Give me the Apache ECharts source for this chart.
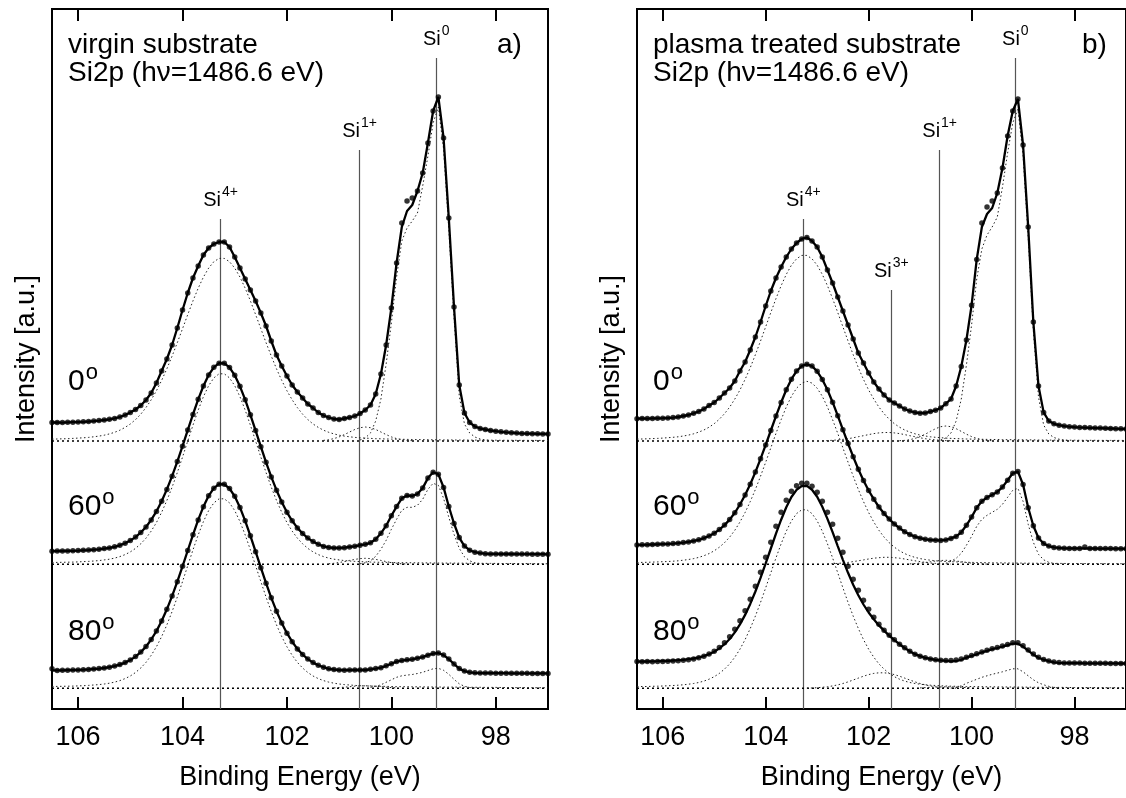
<!DOCTYPE html>
<html><head><meta charset="utf-8">
<script src="https://cdn.jsdelivr.net/npm/echarts@6/dist/echarts.min.js"></script>
<style>html,body{margin:0;padding:0;background:#fff}#c{width:1126px;height:798px}</style>
</head><body><div id="c"></div>
<script>
// Binding energy grid (eV)
const energies = [106.5,106.4,106.3,106.2,106.1,106.0,105.9,105.8,105.7,105.6,
105.5,105.4,105.3,105.2,105.1,105.0,104.9,104.8,104.7,104.6,
104.5,104.4,104.3,104.2,104.1,104.0,103.9,103.8,103.7,103.6,
103.5,103.4,103.3,103.2,103.1,103.0,102.9,102.8,102.7,102.6,
102.5,102.4,102.3,102.2,102.1,102.0,101.9,101.8,101.7,101.6,
101.5,101.4,101.3,101.2,101.1,101.0,100.9,100.8,100.7,100.6,
100.5,100.4,100.3,100.2,100.1,100.0,99.9,99.8,99.7,99.6,
99.5,99.4,99.3,99.2,99.1,99.0,98.9,98.8,98.7,98.6,
98.5,98.4,98.3,98.2,98.1,98.0,97.9,97.8,97.7,97.6,
97.5,97.4,97.3,97.2,97.1,97.0];
const tickValues = [98,100,102,104,106];
const angleLabels = ['0','60','80'];
const baselineOffsets = [268, 144.7, 20.7]; // stacking offsets of 0°, 60°, 80° spectra (a.u.)

// ---------- panel a: virgin substrate ----------
const a0Data = [18.5,18.6,18.4,18.7,18.8,18.9,19.2,19.5,19.9,20.4,
21,21.7,22.6,24,26,28.5,31.5,35.5,41,48,
58,70,82,96,113,131,148,163,175,186,
193,197,199,199,194,184,173,162,151,140,
128,115,100,86,75,65,56,49,43,37,
33,28.5,25.5,23.5,22,21.5,22.5,23.5,25,27.5,
31,36,47,67,96,133,178,218,240,243,
250,268,298,330,344,303,223,134,56,28,
18.5,14.5,12.5,11.5,10.5,9.8,9.2,8.7,8.3,7.9,
7.6,7.4,7.3,7.2,7.1,7.0];
const a0Fit = [18.5,18.6,18.4,18.7,18.8,18.9,19.2,19.5,19.9,20.4,
21,21.7,22.6,24,26,28.5,31.5,35.5,41,48,
58,70,82,96,113,131,148,163,175,186,
193,197,199,199,194,184,173,162,151,140,
128,115,100,86,75,65,56,49,43,37,
33,28.5,25.5,23.5,22,21.5,22.5,23.5,25,27.5,
31,36,47,67,96,133,178,214,230,236,
250,268,298,330,344,303,223,134,56,28,
18.5,14.5,12.5,11.5,10.5,9.8,9.2,8.7,8.3,7.9,
7.6,7.4,7.3,7.2,7.1,7.0];
const a0Si4 = [1.9,2.0,2.2,2.3,2.6,2.9,3.2,3.6,4.2,4.9,
5.8,7.1,8.7,10.8,13.6,17.0,21.4,26.8,33.4,41.2,
50.2,60.6,72.2,84.9,98.3,112.3,126.4,140.1,152.8,163.9,
172.9,179.3,182.6,182.6,179.3,172.9,163.9,152.8,140.1,126.4,
112.3,98.3,84.9,72.2,60.6,50.2,41.2,33.4,26.8,21.4,
17.0,13.6,10.8,8.7,7.1,5.8,4.9,4.2,3.6,3.2,
2.9,2.6,2.3,2.2,2.0,1.9,1.8,1.7,1.6,1.5,
1.4,1.4,1.3,1.2,1.2,1.1,1.1,1.0,1.0,1.0,
0.9,0.9,0.9,0.8,0.8,0.8,0.7,0.7,0.7,0.7,
0.6,0.6,0.6,0.6,0.6,0.5];
const a0Si1 = [0.6,1.3,2.4,4.1,6.4,9.0,11.5,13.3,14,13.3,11.5,9.0,6.4,4.1,2.4,1.3,0.6,0.3]; // from 101.3 eV
const a0Si0 = [1,3,8,20,42,77,118,164,200,213,220,228,255,285,318,334,292,212,124,45,17,8,4,2,1,0.5]; // from 100.6 eV

const a60Data = [13.1,13.2,13.3,13.4,13.5,13.7,14.0,14.2,14.6,15.0,
15.7,16.4,17.5,19.0,21.0,23.7,27.2,31.8,37.3,44.4,
52.9,63.1,74.9,88.1,102.7,118.1,134.2,149.9,165.0,178.3,
189.3,197.0,201.1,201.0,196.9,189.0,178.0,164.6,149.5,133.7,
117.6,102.0,87.4,74.1,62.3,52.0,43.5,36.4,30.8,26.2,
22.7,20.0,17.9,16.9,16.3,16.4,16.6,17.4,18.0,19.1,
20.0,21.5,25.1,31.0,38.6,48.6,57.7,66.0,68.8,68.4,
70.3,76.2,86.2,92.0,90.0,76.9,57.8,40.8,26.7,18.2,
14.1,12.1,11.2,10.6,10.4,10.4,10.3,10.3,10.3,10.2,
10.2,10.2,10.1,10.1,10.1,10.0];
const a60Si4 = [1.8,1.9,2.0,2.1,2.2,2.4,2.7,2.9,3.3,3.7,
4.4,5.1,6.2,7.7,9.7,12.4,15.9,20.5,26.1,33.2,
41.7,52.0,63.8,77.1,91.7,107.2,123.3,139.1,154.2,167.6,
178.6,186.4,190.5,190.5,186.4,178.6,167.6,154.2,139.1,123.3,
107.2,91.7,77.1,63.8,52.0,41.7,33.2,26.1,20.5,15.9,
12.4,9.7,7.7,6.2,5.1,4.4,3.7,3.3,2.9,2.7,
2.4,2.2,2.1,2.0,1.9,1.8,1.7,1.6,1.6,1.5,
1.5,1.4,1.4,1.3,1.3,1.2,1.2,1.2,1.1,1.1,
1.0,1.0,1.0,0.9,0.9,0.9,0.8,0.8,0.8,0.7,
0.7,0.7,0.6,0.6,0.6,0.5];
const a60Si1 = [0.5,1.0,1.8,2.7,3.9,4.9,5.7,6,5.7,4.9,3.9,2.7,1.8,1.0,0.5,0.3]; // from 101.2 eV
const a60Si0 = [0.5,1.5,3.5,8,15,24,35,45,54,57,57,59,65,75,81,79,66,47,30,16,7.5,3.5,1.5,0.6,0.2]; // from 100.6 eV

const a80Data = [19.6,17.9,18.0,18.1,18.2,18.4,18.6,18.9,19.3,19.7,
20.3,21.1,22.2,23.7,25.7,28.3,31.7,36.2,41.7,48.8,
57.2,67.3,79.0,92.2,106.6,122.0,137.8,153.5,168.4,181.6,
192.5,200.1,204.1,204.0,199.8,192.0,180.9,167.5,152.5,136.6,
120.6,105.1,90.5,77.1,65.4,55.1,46.6,39.4,33.8,29.2,
25.7,23.1,21.1,19.5,18.8,18.3,18.1,18.2,18.3,18.4,
18.3,19.0,19.7,20.6,22.5,24.6,26.7,27.7,28.5,29.0,
30.1,31.2,33.1,34.7,35.3,33.2,29.2,24.3,19.7,17.2,
16.0,15.5,15.2,15.2,15.2,15.1,15.1,15.1,15.0,15.0,
15.0,15.0,14.9,14.9,14.9,14.9];
const a80Fit = [17.8,17.9,18.0,18.1,18.2,18.4,18.6,18.9,19.3,19.7,
20.3,21.1,22.2,23.7,25.7,28.3,31.7,36.2,41.7,48.8,
57.2,67.3,79.0,92.2,106.6,122.0,137.8,153.5,168.4,181.6,
192.5,200.1,204.1,204.0,199.8,192.0,180.9,167.5,152.5,136.6,
120.6,105.1,90.5,77.1,65.4,55.1,46.6,39.4,33.8,29.2,
25.7,23.1,21.1,19.5,18.8,18.3,18.1,18.2,18.3,18.4,
18.3,19.0,19.7,20.6,22.5,24.6,26.7,27.7,28.5,29.0,
30.1,31.2,33.1,34.7,35.3,33.2,29.2,24.3,19.7,17.2,
16.0,15.5,15.2,15.2,15.2,15.1,15.1,15.1,15.0,15.0,
15.0,15.0,14.9,14.9,14.9,14.9];
const a80Si4 = [1.8,1.9,2.0,2.1,2.2,2.4,2.6,2.9,3.3,3.7,
4.3,5.1,6.2,7.7,9.7,12.3,15.8,20.3,25.9,33.0,
41.5,51.7,63.4,76.7,91.2,106.7,122.6,138.4,153.4,166.7,
177.7,185.4,189.5,189.5,185.4,177.7,166.7,153.4,138.4,122.6,
106.7,91.2,76.7,63.4,51.7,41.5,33.0,25.9,20.3,15.8,
12.3,9.7,7.7,6.2,5.1,4.3,3.7,3.3,2.9,2.6,
2.4,2.2,2.1,2.0,1.9,1.8,1.7,1.6,1.6,1.5,
1.5,1.4,1.4,1.3,1.3,1.2,1.2,1.2,1.1,1.1,
1.0,1.0,1.0,0.9,0.9,0.9,0.8,0.8,0.8,0.7,
0.7,0.7,0.6,0.6,0.6,0.5];
const a80Si1 = [0.4,0.7,1.1,1.6,2.1,2.4,2.5,2.4,2.1,1.6,1.1,0.7,0.4]; // from 101.1 eV
const a80Si0 = [1,2,3.5,6,8.5,11,12.5,13.2,13.8,14.8,16,17.8,19.5,20,18,14,9,4.5,2,0.8,0.3]; // from 100.4 eV

// ---------- panel b: plasma treated substrate ----------
const b0Data = [22.3,22.5,22.4,22.6,22.7,22.8,23.0,23.4,24.0,25.0,
26.0,27.7,29.5,32.0,35.5,38.5,43,48,53,60,
70,79,91,104,119,135,150,163,174,184,
192,198,202,203.5,200,194,184,171,158,144,
130,116,102,88,78,68,59,52,46,41,
38,35,32,30,28.5,27.8,28,29.4,30.8,33,
37.3,42,55,74.5,101,135.7,181.6,218,234,240,
248,273,305,330,342,296,214,119,55,28.6,
20,17.2,15.8,14.9,14.3,13.9,13.6,13.4,13.2,13.0,
12.9,12.7,12.5,12.3,12.2,12.0];
const b0Fit = [22.3,22.5,22.4,22.6,22.7,22.8,23.0,23.4,24.0,25.0,
26.0,27.7,29.5,32.0,35.5,38.5,43,48,53,60,
70,79,91,104,119,135,150,163,174,184,
192,198,202,203.5,200,194,184,171,158,144,
130,116,102,88,78,68,59,52,46,41,
38,35,32,30,28.5,27.8,28,29.4,30.8,33,
37.3,42,55,74.5,101,135.7,181.6,214,227,233,
248,273,305,330,342,296,214,119,55,28.6,
20,17.2,15.8,14.9,14.3,13.9,13.6,13.4,13.2,13.0,
12.9,12.7,12.5,12.3,12.2,12.0];
const b0Si4 = [1.9,2.0,2.2,2.4,2.6,2.9,3.3,3.7,4.2,5.0,
5.9,7.2,8.9,11.0,13.8,17.3,21.8,27.3,33.9,41.9,
51.0,61.6,73.3,86.3,100.0,114.2,128.5,142.4,155.3,166.6,
175.8,182.2,185.6,185.6,182.2,175.8,166.6,155.3,142.4,128.5,
114.2,100.0,86.3,73.3,61.6,51.0,41.9,33.9,27.3,21.8,
17.3,13.8,11.0,8.9,7.2,5.9,5.0,4.2,3.7,3.3,
2.9,2.6,2.4,2.2,2.0,1.9,1.8,1.7,1.6,1.5,
1.5,1.4,1.3,1.3,1.2,1.2,1.1,1.1,1.0,1.0,
0.9,0.9,0.9,0.8,0.8,0.8,0.7,0.7,0.7,0.7,
0.6,0.6,0.6,0.6,0.6,0.5];
const b0Si3 = [0.2,0.4,0.7,1.1,1.6,2.3,3.2,4.3,5.3,6.4,7.4,8.1,8.5,8.5,8.1,7.4,6.4,5.3,4.3,3.2,2.3,1.6,1.1,0.7,0.4,0.2]; // from 102.9 eV
const b0Si1 = [0.3,0.6,1.3,2.6,4.4,6.8,9.6,12.3,14.3,15,14.3,12.3,9.6,6.8,4.4,2.6,1.3,0.6,0.3]; // from 101.4 eV
const b0Si0 = [1,3,8,20,42,76,116,162,192,206,214,224,254,288,318,332,286,204,110,44,16,7,3.5,1.8,0.9,0.4]; // from 100.6 eV

const b60Data = [19.4,19.5,19.6,19.8,20.0,20.2,20.4,20.7,21.1,21.7,
22.4,23.3,24.5,26.2,28.3,31.1,34.7,39.2,44.7,51.5,
59.8,69.3,80.1,92.2,105.5,119.4,133.8,148.2,161.8,174.5,
185.1,193.2,198.3,200.0,198.2,193.0,184.9,174.5,162.1,148.6,
134.6,120.8,107.6,95.0,83.8,73.8,65.1,57.3,50.8,45.2,
40.3,36.2,32.6,29.9,27.6,26.1,25.0,24.4,24.1,23.9,
24.4,25.9,27.9,32.0,39.0,47.2,56.6,63.1,66.8,69.5,
72.4,77.2,84.1,91.0,92.8,79.7,56.5,38.5,26.3,20.8,
18.2,16.9,16.4,16.0,15.9,15.9,15.9,17.2,15.8,15.8,
15.7,15.7,15.7,15.6,15.6,15.5];
const b60Fit = [19.4,19.5,19.6,19.8,20.0,20.2,20.4,20.7,21.1,21.7,
22.4,23.3,24.5,26.2,28.3,31.1,34.7,39.2,44.7,51.5,
59.8,69.3,80.1,92.2,105.5,119.4,133.8,148.2,161.8,174.5,
185.1,193.2,198.3,200.0,198.2,193.0,184.9,174.5,162.1,148.6,
134.6,120.8,107.6,95.0,83.8,73.8,65.1,57.3,50.8,45.2,
40.3,36.2,32.6,29.9,27.6,26.1,25.0,24.4,24.1,23.9,
24.4,25.9,27.9,32.0,39.0,47.2,56.6,63.1,66.8,69.5,
72.4,77.2,84.1,91.0,92.8,79.7,56.5,38.5,26.3,20.8,
18.2,16.9,16.4,16.0,15.9,15.9,15.9,15.8,15.8,15.8,
15.7,15.7,15.7,15.6,15.6,15.5];
const b60Si4 = [1.8,1.9,2.0,2.2,2.4,2.6,2.8,3.1,3.5,4.1,
4.8,5.7,6.9,8.6,10.7,13.5,17.1,21.6,27.2,34.0,
42.3,51.8,62.7,74.8,88.1,102.1,116.5,130.9,144.6,157.3,
168.0,176.1,181.2,183.0,181.2,176.1,168.0,157.3,144.6,130.9,
116.5,102.1,88.1,74.8,62.7,51.8,42.3,34.0,27.2,21.6,
17.1,13.5,10.7,8.6,6.9,5.7,4.8,4.1,3.5,3.1,
2.8,2.6,2.4,2.2,2.0,1.9,1.8,1.7,1.6,1.5,
1.45,1.4,1.3,1.26,1.2,1.15,1.1,1.05,1.0,1.0,
0.95,0.9,0.9,0.85,0.8,0.8,0.8,0.75,0.7,0.7,
0.7,0.65,0.6,0.6,0.6,0.5];
const b60Si3 = [0.3,0.6,0.9,1.3,1.9,2.7,3.5,4.4,5.3,6.1,6.6,7.0,7.0,6.6,6.1,5.3,4.4,3.5,2.7,1.9,1.3,0.9,0.6,0.3,0.2]; // from 102.8 eV
const b60Si1 = [0.4,0.7,1.2,1.8,2.6,3.3,3.8,4,3.8,3.3,2.6,1.8,1.2,0.7,0.4,0.2]; // from 101.2 eV
const b60Si0 = [1,3,6,11,19,28,38,45,49,52,55,60,67,74,76,63,40,22,10,4.5,2,0.8,0.3]; // from 100.5 eV

const b80Data = [26.8,26.5,26.7,26.6,26.8,26.9,27.0,27.2,27.6,28.0,
28.6,29.4,30.5,32.0,34.2,37.0,40.8,45.5,51.5,59.0,
67.5,77.5,89.0,102,116,131,146,162,176,188,
197,202.5,205,205,202,196,187,176,164,150,
136,122,109,98,88,79,71,64,58,53,
48.5,44,40.5,37,34,32,30.5,29.3,28.5,28,
27.8,27.8,28.2,29.3,31.0,32.8,34.6,36.4,38.0,39.5,
40.8,42.2,43.8,45.5,45.6,42.5,38.3,34.3,31.0,28.8,
27.3,26.2,25.7,25.4,25.3,25.2,25.2,25.1,25.1,25.0,
25.0,25.0,24.9,24.9,24.8,24.8];
const b80Fit = [26.7,26.8,26.8,27.0,27.1,27.3,27.5,27.8,28.1,28.5,
29.1,29.8,30.8,32.2,34.1,36.6,39.9,44.1,49.3,55.9,
63.9,73.4,84.4,96.8,110.4,124.9,139.8,154.6,168.6,181.1,
191.3,198.5,202.2,202.4,198.6,191.5,181.5,169.4,156.1,142.2,
128.5,115.5,103.6,93.1,83.8,75.8,69.0,62.9,57.7,52.7,
48.2,44.1,40.3,37.0,34.1,32.2,30.5,29.4,28.5,27.9,
27.4,26.9,27.3,28.5,30.7,32.4,34.0,36.0,37.5,39.1,
40.3,41.6,43.1,44.7,44.6,41.7,37.6,33.7,30.6,28.6,
27.2,25.9,25.4,25.2,25.1,25.1,25.1,25.0,25.0,25.0,
24.9,24.9,24.9,24.9,24.8,24.8];
const b80Si4 = [1.7,1.8,1.8,2.0,2.1,2.3,2.5,2.8,3.1,3.5,
4.1,4.8,5.8,7.2,9.1,11.6,14.9,19.2,24.4,31.1,
39.1,48.7,59.8,72.2,85.9,100.5,115.5,130.4,144.5,157.1,
167.4,174.7,178.5,178.5,174.7,167.4,157.1,144.5,130.4,115.5,
100.5,85.9,72.2,59.8,48.7,39.1,31.1,24.4,19.2,14.9,
11.6,9.1,7.2,5.8,4.8,4.1,3.5,3.1,2.8,2.5,
2.3,2.1,2.0,1.8,1.8,1.7,1.65,1.6,1.5,1.5,
1.4,1.4,1.3,1.3,1.2,1.2,1.1,1.1,1.0,1.0,
1.0,0.9,0.9,0.9,0.8,0.8,0.8,0.7,0.7,0.7,
0.6,0.6,0.6,0.6,0.5,0.5];
const b80Si3 = [0.2,0.3,0.6,1.0,1.5,2.4,3.4,4.8,6.4,8.3,10.2,12.1,13.7,14.9,15.5,15.5,14.9,13.7,12.1,10.2,8.3,6.4,4.8,3.4,2.4,1.5,1.0,0.6,0.3,0.2]; // from 103.2 eV
const b80Si1 = [0.4,0.7,1.0,1.2,1.4,1.5,1.4,1.2,1.0,0.7,0.4]; // from 101.0 eV
const b80Si0 = [0.8,2.5,5,7,9,11,12.5,14,15.2,16.5,18,19.5,19.5,16.5,12.5,8.5,5.5,3.5,2,0.8,0.3]; // from 100.3 eV

// reference lines: charge state, energy (eV), top of line (a.u.)
const peakLinesA = [['4+',103.27,490],['1+',100.61,559],['0',99.14,651]];
const peakLinesB = [['4+',103.27,490],['3+',101.56,419],['1+',100.62,559],['0',99.15,651]];

const titlesA = ['virgin substrate','Si2p (h\u03bd=1486.6 eV)'];
const titlesB = ['plasma treated substrate','Si2p (h\u03bd=1486.6 eV)'];

// ------------------------------------------------------------
const FF = '"Liberation Sans", Arial, Helvetica, sans-serif';
const panels = [
  {spectra:[
    {data:a0Data, fit:a0Fit, si4:a0Si4, comps:[[a0Si1,101.3],[a0Si0,100.6]]},
    {data:a60Data, fit:a60Data, si4:a60Si4, comps:[[a60Si1,101.2],[a60Si0,100.6]]},
    {data:a80Data, fit:a80Fit, si4:a80Si4, comps:[[a80Si1,101.1],[a80Si0,100.4]]}],
   lines:peakLinesA, titles:titlesA, tag:'a)', left:52},
  {spectra:[
    {data:b0Data, fit:b0Fit, si4:b0Si4, comps:[[b0Si3,102.9],[b0Si1,101.4],[b0Si0,100.6]]},
    {data:b60Data, fit:b60Fit, si4:b60Si4, comps:[[b60Si3,102.8],[b60Si1,101.2],[b60Si0,100.5]]},
    {data:b80Data, fit:b80Fit, si4:b80Si4, comps:[[b80Si3,103.2],[b80Si1,101.0],[b80Si0,100.3]]}],
   lines:peakLinesB, titles:titlesB, tag:'b)', left:637}
];
const GRID_W = 496, GRID_TOP = 9, GRID_H = 700;

function idxOf(e){ return energies.findIndex(v => Math.abs(v - e) < 1e-6); }

const grids = [], xAxes = [], yAxes = [], series = [], graphics = [];
panels.forEach((p, pi) => {
  grids.push({left:p.left, top:GRID_TOP, width:GRID_W, height:GRID_H, show:true, borderColor:'#000', borderWidth:2, backgroundColor:'transparent'});
  ['bottom','top'].forEach(pos => {
    xAxes.push({type:'value', gridIndex:pi, position:pos, min:97, max:106.5, inverse:true,
      axisLine:{show:true, onZero:false, lineStyle:{color:'#000', width:2}},
      axisTick:{show:true, inside:true, length:12, lineStyle:{color:'#000', width:2}, customValues:tickValues},
      axisLabel: pos==='bottom' ? {show:true, customValues:tickValues, fontSize:27, color:'#000', fontFamily:FF, margin:15} : {show:false},
      splitLine:{show:false},
      name: pos==='bottom' ? 'Binding Energy (eV)' : '', nameLocation:'middle', nameGap:55,
      nameTextStyle:{fontSize:27, color:'#000', fontFamily:FF}});
  });
  yAxes.push({type:'value', gridIndex:pi, min:0, max:GRID_H,
    axisLine:{show:true, lineStyle:{color:'#000', width:2}}, axisTick:{show:false}, axisLabel:{show:false}, splitLine:{show:false},
    name:'Intensity [a.u.]', nameLocation:'middle', nameRotate:90, nameGap:12,
    nameTextStyle:{fontSize:27, color:'#000', fontFamily:FF}});
  const xi = pi*2, yi = pi;
  p.spectra.forEach((s, si) => {
    const off = baselineOffsets[si];
    const base = {type:'line', xAxisIndex:xi, yAxisIndex:yi, silent:true, animation:false};
    const bl = Object.assign({}, base, {data:[[energies[0],off],[energies[energies.length-1],off]], symbol:'none',
      lineStyle:{color:'#000', width:1.6, type:[2,3]}, z:2});
    if (si === 2) {
      bl.markLine = {silent:true, symbol:['none','none'], animation:false, z:1,
        lineStyle:{color:'#555', width:1.2, type:'solid'},
        label:{show:true, position:'end', distance:4, color:'#000',
          formatter: prm => '{s|Si}{p|' + prm.name + '}',
          rich:{s:{fontSize:20, fontFamily:FF, color:'#000'}, p:{fontSize:14, fontFamily:FF, color:'#000', padding:[0,0,16,1]}}},
        data: p.lines.map(l => [{name:l[0], coord:[l[1],0]}, {name:l[0], coord:[l[1],l[2]]}])};
    }
    series.push(bl);
    const dotted = {color:'#222', width:1, type:[1.5,2.5]};
    series.push(Object.assign({}, base, {data: energies.map((e,i)=>[e, off + s.si4[i]]), symbol:'none', lineStyle:dotted, z:2}));
    s.comps.forEach(c => {
      const st = idxOf(c[1]);
      series.push(Object.assign({}, base, {data: c[0].map((v,k)=>[energies[st+k], off + v]), symbol:'none', lineStyle:dotted, z:2}));
    });
    series.push(Object.assign({}, base, {data: energies.map((e,i)=>[e, off + s.fit[i]]), symbol:'none', lineStyle:{color:'#000', width:2.3}, z:3}));
    series.push({type:'scatter', xAxisIndex:xi, yAxisIndex:yi, silent:true, animation:false,
      data: energies.map((e,i)=>[e, off + s.data[i]]), symbol:'circle', symbolSize:5.5, itemStyle:{color:'#000'}, z:4});
    // angle label
    const yCenters = [382, 507, 632];
    graphics.push({type:'text', x:p.left + 16, y:yCenters[si], silent:true,
      style:{text:'{n|' + angleLabels[si] + '}{o|o}', fill:'#000', verticalAlign:'middle', textVerticalAlign:'middle',
        rich:{n:{fontSize:30, fontFamily:FF, fill:'#000'}, o:{fontSize:22, fontFamily:FF, fill:'#000', padding:[0,0,18,1]}}}});
  });
  graphics.push({type:'text', x:p.left + 16, y:45, silent:true, style:{text:p.titles[0], font:'28px ' + FF, fill:'#000', verticalAlign:'middle', textVerticalAlign:'middle'}});
  graphics.push({type:'text', x:p.left + 16, y:73, silent:true, style:{text:p.titles[1], font:'28px ' + FF, fill:'#000', verticalAlign:'middle', textVerticalAlign:'middle'}});
  graphics.push({type:'text', x:p.left + 445, y:45, silent:true, style:{text:p.tag, font:'28px ' + FF, fill:'#000', verticalAlign:'middle', textVerticalAlign:'middle'}});
});

const chart = echarts.init(document.getElementById('c'), null, {renderer:'canvas'});
chart.setOption({animation:false, backgroundColor:'#fff', grid:grids, xAxis:xAxes, yAxis:yAxes, series:series, graphic:graphics});
</script></body></html>
